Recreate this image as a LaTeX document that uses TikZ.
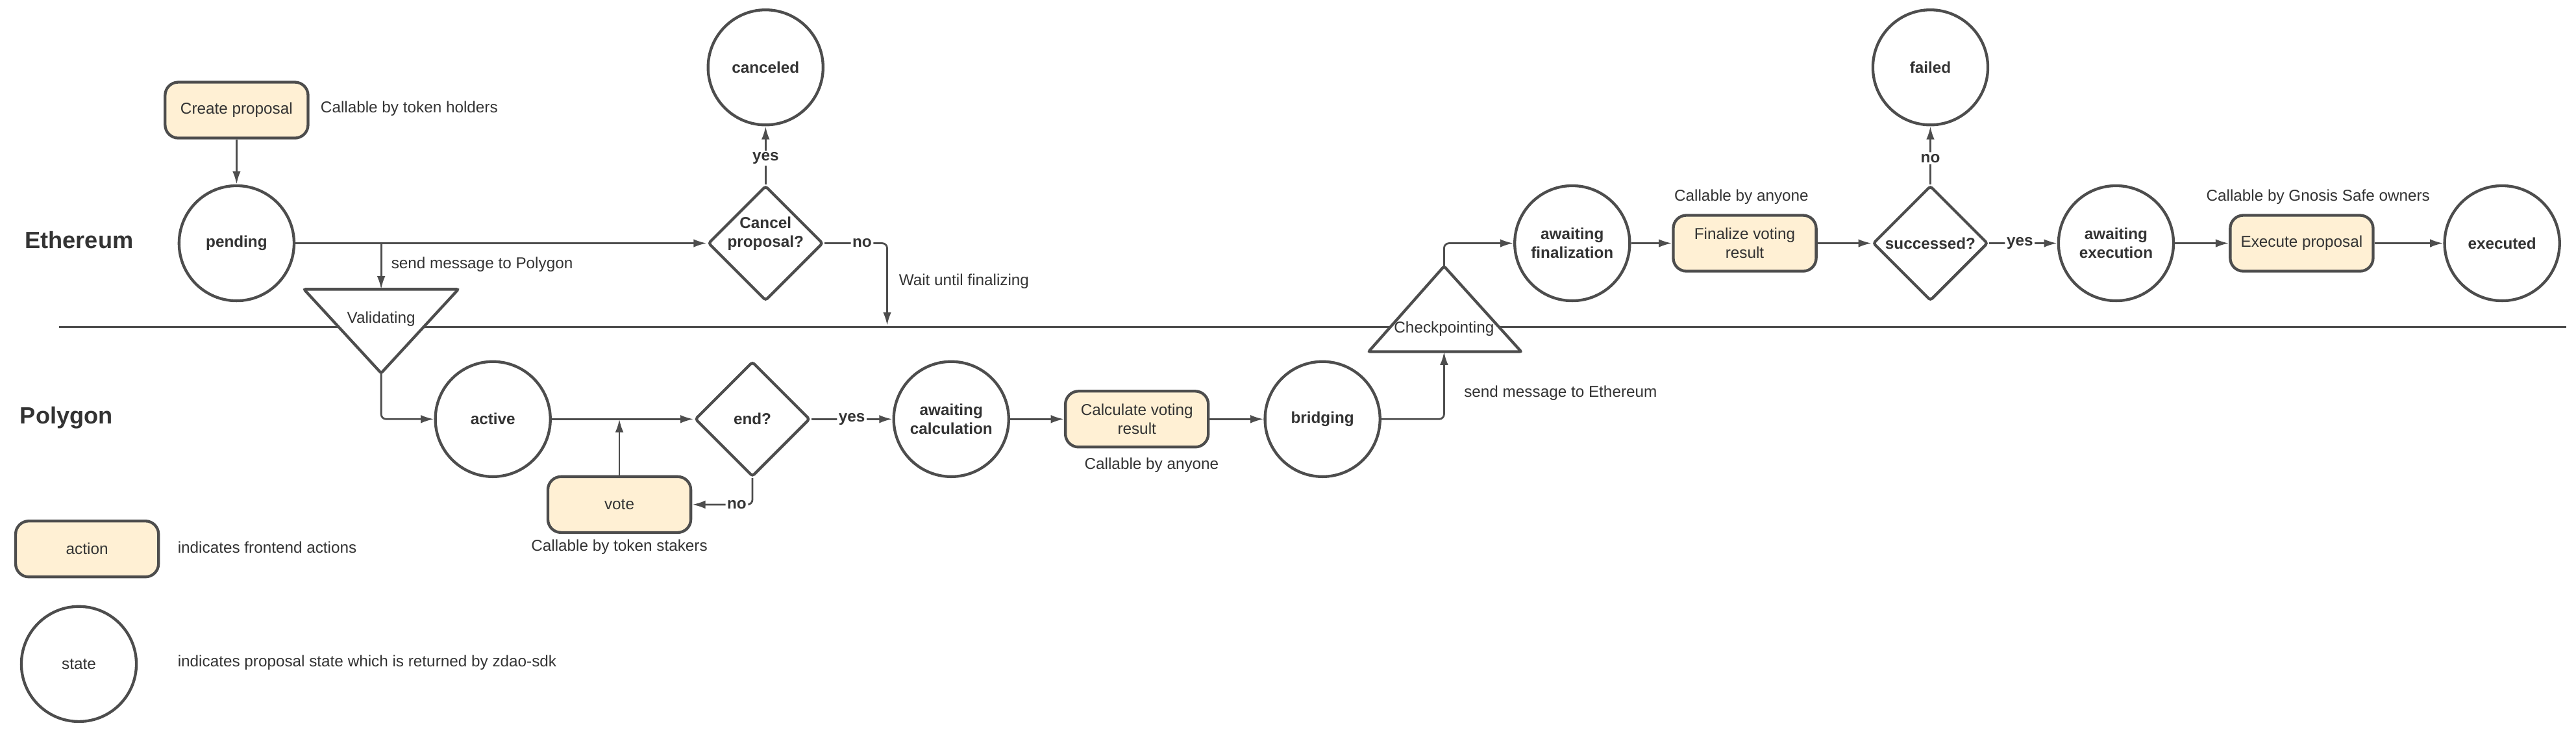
\documentclass[tikz,border=0pt]{standalone}
\usepackage{fontspec}
\setmainfont{Liberation Sans}
\usepackage{tikz}
\usetikzlibrary{arrows.meta, calc, positioning, shapes.geometric}
\definecolor{lineGray}{HTML}{4D4D4D}
\definecolor{textGray}{HTML}{333333}
\definecolor{actionFill}{HTML}{FFF0D4}

\begin{document}
\begin{tikzpicture}[x=1pt, y=-1pt, >={Latex[length=8pt,width=5pt]},
    font=\fontsize{9.6}{11.5}\selectfont, text=textGray,
    stateNode/.style={circle, draw=lineGray, line width=1.7pt, fill=white, minimum size=70pt, inner sep=0pt, align=center, font=\fontsize{9.6}{11.5}\selectfont\bfseries},
    legendState/.style={stateNode, font=\fontsize{9.6}{11.5}\selectfont},
    actionNode/.style={rectangle, rounded corners=8pt, draw=lineGray, line width=1.7pt, fill=actionFill, minimum width=87pt, minimum height=34pt, inner sep=0pt, align=center},
    choiceNode/.style={diamond, aspect=1, draw=lineGray, line width=1.7pt, fill=white, minimum width=70pt, minimum height=70pt, inner sep=0pt, rounded corners=1.5pt, align=center, font=\fontsize{9.6}{11.5}\selectfont\bfseries},
    triShape/.style={draw=lineGray, line width=1.7pt, fill=white, rounded corners=1pt},
    flowArrow/.style={->, draw=lineGray, line width=1.1pt, rounded corners=3pt},
    answer/.style={fill=white, inner sep=1pt, font=\fontsize{9.6}{11.5}\selectfont\bfseries},
    laneText/.style={anchor=west, inner sep=0pt, font=\fontsize{14.3}{17}\selectfont\bfseries}]

    \useasboundingbox (0,0) rectangle (1568,452);

    % lanes
    \coordinate (laneL) at (36,199);
    \coordinate (laneR) at (1562,199);
    \draw[lineGray, line width=1.2pt] (laneL) -- (laneR);
    \node[laneText] (eth) at (15,146) {Ethereum};
    \node[laneText] (poly) at (12,254) {Polygon};

    % bridge triangles
    \coordinate (validL) at (185,176);
    \coordinate (validR) at (279,176);
    \coordinate (validTop) at (232,176);
    \coordinate (validTip) at (232,227);
    \coordinate (checkL) at (833,214);
    \coordinate (checkR) at (926,214);
    \coordinate (checkBase) at (879,214);
    \coordinate (checkTip) at (879,162);
    \filldraw[triShape] (validL) -- (validR) -- (validTip) -- cycle;
    \filldraw[triShape] (checkL) -- (checkR) -- (checkTip) -- cycle;
    \node (valid) at (232,194) {Validating};
    \node (checkp) at (879,200) {Checkpointing};

    % Ethereum side
    \node[actionNode] (create) at (144,67) {Create proposal};
    \node[stateNode] (pending) at (144,148) {pending};
    \node[choiceNode] (cancel) at (466,148) {\raisebox{3.2pt}[0pt][0pt]{\begin{tabular}{@{}c@{}}Cancel\\proposal?\end{tabular}}};
    \node[stateNode] (canceled) at (466,41) {canceled};
    \node[stateNode] (awaitFin) at (957,148) {awaiting\\finalization};
    \node[actionNode] (finalize) at (1062,148) {Finalize voting\\result};
    \node[choiceNode] (success) at (1175,148) {successed?};
    \node[stateNode] (failed) at (1175,41) {failed};
    \node[stateNode] (awaitExec) at (1288,148) {awaiting\\execution};
    \node[actionNode] (execute) at (1401,148) {Execute proposal};
    \node[stateNode] (executed) at (1523,148) {executed};

    % Polygon side
    \node[stateNode] (active) at (300,255) {active};
    \node[choiceNode] (endq) at (458,255) {end?};
    \node[actionNode] (vote) at (377,307) {vote};
    \node[stateNode] (awaitCalc) at (579,255) {awaiting\\calculation};
    \node[actionNode] (calc) at (692,255) {Calculate voting\\result};
    \node[stateNode] (bridging) at (805,255) {bridging};

    % notes
    \node[anchor=west, inner sep=0pt] (noteCreate) at (195,66) {Callable by token holders};
    \node[anchor=west, inner sep=0pt] (notePoly) at (238,161) {send message to Polygon};
    \node[anchor=west, inner sep=0pt] (noteWait) at (547,171) {Wait until finalizing};
    \node (noteVote) at (377,333) {Callable by token stakers};
    \node (noteCalc) at (701,283) {Callable by anyone};
    \node[anchor=west, inner sep=0pt] (noteEth) at (891,239) {send message to Ethereum};
    \node (noteFin) at (1060,120) {Callable by anyone};
    \node (noteExec) at (1411,120) {Callable by Gnosis Safe owners};

    % legend
    \node[actionNode] (legAction) at (53,334) {action};
    \node[anchor=west, inner sep=0pt] (legActionText) at (108,333) {indicates frontend actions};
    \node[legendState] (legState) at (48,404) {state};
    \node[anchor=west, inner sep=0pt] (legStateText) at (108,403) {indicates proposal state which is returned by zdao-sdk};

    % Flow
    \coordinate (waitEnd) at (540,198);
    \draw[flowArrow] (create) -- (pending);
    \draw[flowArrow] (pending) -- (cancel);
    \draw[flowArrow] (pending.east -| validTop) -- (validTop);
    \draw[flowArrow] (cancel) -- node[answer, pos=0.45] {yes} (canceled);
    \draw[flowArrow] (cancel.east) -| node[answer, pos=0.3] {no} (waitEnd);
    \draw[flowArrow] (validTip) |- (active);
    \draw[flowArrow] (active) -- (endq);
    \draw[flowArrow] (vote) -- (vote.north |- active.east);
    \draw[flowArrow] (endq) |- node[answer, pos=0.63] {no} (vote);
    \draw[flowArrow] (endq) -- node[answer] {yes} (awaitCalc);
    \draw[flowArrow] (awaitCalc) -- (calc);
    \draw[flowArrow] (calc) -- (bridging);
    \draw[flowArrow] (bridging) -| (checkBase);
    \draw[flowArrow] (checkTip) |- (awaitFin);
    \draw[flowArrow] (awaitFin) -- (finalize);
    \draw[flowArrow] (finalize) -- (success);
    \draw[flowArrow] (success) -- node[answer, pos=0.45] {no} (failed);
    \draw[flowArrow] (success) -- node[answer, pos=0.45] {yes} (awaitExec);
    \draw[flowArrow] (awaitExec) -- (execute);
    \draw[flowArrow] (execute) -- (executed);
\end{tikzpicture}
\end{document}
